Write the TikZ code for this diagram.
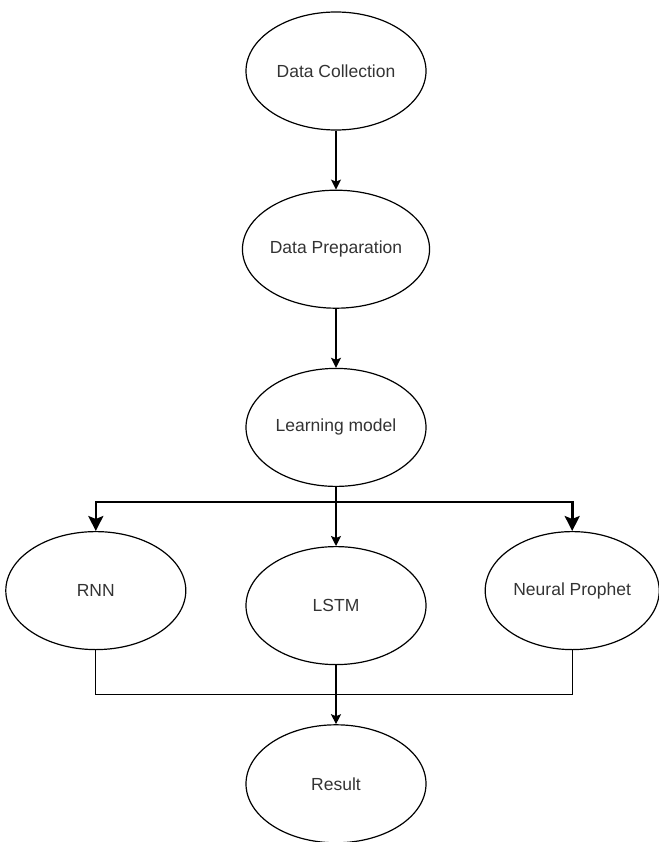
\documentclass[tikz,border=0pt]{standalone}
\usepackage{fontspec}
\setmainfont{Liberation Sans}
\usetikzlibrary{shapes.geometric,positioning,arrows.meta}

\begin{document}
\begin{tikzpicture}[x=1pt, y=1pt, node distance=59pt,
    stage/.style={ellipse, draw, line width=1.2pt, minimum width=180pt, minimum height=118pt,
        inner sep=0pt, text=black!80, font=\fontsize{17.5}{21}\selectfont},
    flow/.style={line width=1.3pt, -{Stealth[width=10pt,length=10pt,inset=2pt]}},
    branch/.style={line width=2.6pt, -{Stealth[width=15pt,length=15pt,inset=3pt]}},
    mergeline/.style={line width=1.3pt}]
            \useasboundingbox (0,0) rectangle (658,-842);
            \node[stage](coll) at (336,-71) {Data Collection};
            \node[stage](prep)[below=of coll] {Data Preparation};
            \node[stage](learn)[below=of prep] {Learning model};
            \node[stage](lstm)[below=of learn] {LSTM};
            \node[stage](rnn)[left=of lstm, yshift=15pt] {RNN};
            \node[stage, minimum width=174pt](prophet)[right=58pt of lstm, yshift=15pt] {Neural Prophet};
            \node[stage](result)[below=of lstm] {Result};
            \coordinate[below=15pt of learn.south](split);
            \coordinate[below=29pt of lstm.south](merge);
            \path[flow]
                (coll) edge (prep)
                (prep) edge (learn)
                (learn) edge (lstm)
                (lstm) edge (result);
            \draw[line width=2.6pt] (rnn.north |- split) -- (prophet.north |- split);
            \draw[branch] (split) -| (rnn.north);
            \draw[branch] (split) -| (prophet.north);
            \draw[mergeline] (rnn.south) |- (merge) -| (prophet.south);
        \end{tikzpicture}
\end{document}
